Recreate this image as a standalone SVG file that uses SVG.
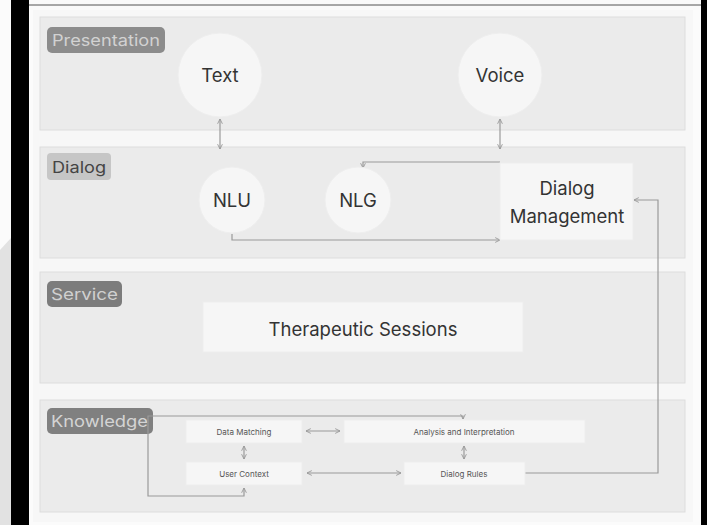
<svg xmlns="http://www.w3.org/2000/svg" width="707" height="525" viewBox="0 0 707 525">
<defs>
<marker id="ah" viewBox="0 0 10 10" refX="9" refY="5" markerWidth="5" markerHeight="5" orient="auto-start-reverse">
<path d="M1,1 L9,5 L1,9" fill="none" stroke="#999" stroke-width="1.5"/>
</marker>
<style>
.layer{fill:#ebebeb;stroke:#dddddd;stroke-width:1}
.node{fill:#f6f6f6;stroke:#eeeeee;stroke-width:1}
.t{font-family:Inter,"Liberation Sans",sans-serif;fill:#333;text-anchor:middle;dominant-baseline:central;font-size:18.5px}
.s{font-size:8px;fill:#555}
.lbl{font-family:Inter,"Liberation Sans",sans-serif;font-size:16px;dominant-baseline:central}
.c{fill:none;stroke:#9a9a9a;stroke-width:1.2;marker-start:url(#ah);marker-end:url(#ah)}
.c1{fill:none;stroke:#9a9a9a;stroke-width:1.2;marker-end:url(#ah)}
</style>
</defs>
<rect x="0" y="0" width="707" height="525" fill="#fbfbfb"/>
<polygon points="0,250 11,238 11,525 0,525" fill="#e2e2e2"/>
<rect x="11" y="0" width="18" height="525" fill="#000"/>
<rect x="701" y="0" width="6" height="525" fill="#000"/>
<line x1="29" y1="5" x2="701" y2="5" stroke="#555" stroke-width="1"/>
<rect x="33" y="10" width="660" height="512" fill="#f7f7f7"/>

<g id="layer-presentation">
<rect class="layer" x="40" y="17" width="645" height="113"/>
<rect x="47" y="27" width="118" height="26" rx="5" fill="#8c8c8c"/>
<text class="lbl" x="52" y="40" fill="#d2d2d2" textLength="108" lengthAdjust="spacingAndGlyphs">Presentation</text>
</g>
<g id="layer-dialog">
<rect class="layer" x="40" y="147" width="645" height="111"/>
<rect x="47" y="153" width="64" height="27" rx="4" fill="#c6c6c6"/>
<text class="lbl" x="52" y="166.5" fill="#444" textLength="54" lengthAdjust="spacingAndGlyphs">Dialog</text>
</g>
<g id="layer-service">
<rect class="layer" x="40" y="272" width="645" height="111"/>
<rect x="47" y="281" width="75" height="26" rx="5" fill="#7c7c7c"/>
<text class="lbl" x="51" y="294" fill="#d0d0d0" textLength="67" lengthAdjust="spacingAndGlyphs">Service</text>
</g>
<g id="layer-knowledge">
<rect class="layer" x="40" y="400" width="645" height="112"/>
<rect x="47" y="408" width="106" height="26" rx="5" fill="#808080"/>
<text class="lbl" x="51" y="421" fill="#d4d4d4" textLength="97" lengthAdjust="spacingAndGlyphs">Knowledge</text>
</g>

<g id="connectors">
<path class="c" d="M220,119 L220,149"/>
<path class="c" d="M500,119 L500,149"/>
<path class="c1" d="M500,162 L363,162 L363,168"/>
<path class="c1" d="M232,234 L232,240 L500,240"/>
<path class="c1" d="M525,473 L658,473 L658,200 L634,200"/>
<path class="c" d="M306,431 L340,431"/>
<path class="c" d="M244,446 L244,459"/>
<path class="c" d="M464,446 L464,459"/>
<path class="c" d="M307,473 L401,473"/>
<path class="c" d="M244,488 L244,496 L148,496 L148,416 L463,416 L463,419"/>
</g>

<g id="node-text">
<circle class="node" cx="220" cy="75" r="42"/>
<text class="t" x="220" y="75">Text</text>
</g>
<g id="node-voice">
<circle class="node" cx="500" cy="75" r="42"/>
<text class="t" x="500" y="75">Voice</text>
</g>
<g id="node-nlu">
<circle class="node" cx="232" cy="200" r="33"/>
<text class="t" x="232" y="200">NLU</text>
</g>
<g id="node-nlg">
<circle class="node" cx="358" cy="200" r="33"/>
<text class="t" x="358" y="200">NLG</text>
</g>
<g id="node-dm">
<rect class="node" x="500" y="163" width="133" height="77"/>
<text class="t" x="567" y="188">Dialog</text>
<text class="t" x="567" y="216">Management</text>
</g>
<g id="node-ts">
<rect class="node" x="203" y="302" width="320" height="50"/>
<text class="t" x="363" y="329">Therapeutic Sessions</text>
</g>
<g id="node-dmatch">
<rect class="node" x="186" y="420" width="116" height="23"/>
<text class="t s" x="244" y="431.5">Data Matching</text>
</g>
<g id="node-ai">
<rect class="node" x="344" y="420" width="241" height="23"/>
<text class="t s" x="464" y="431.5">Analysis and Interpretation</text>
</g>
<g id="node-uc">
<rect class="node" x="186" y="462" width="116" height="23"/>
<text class="t s" x="244" y="473.5">User Context</text>
</g>
<g id="node-dr">
<rect class="node" x="404" y="462" width="121" height="23"/>
<text class="t s" x="464" y="473.5">Dialog Rules</text>
</g>
</svg>
